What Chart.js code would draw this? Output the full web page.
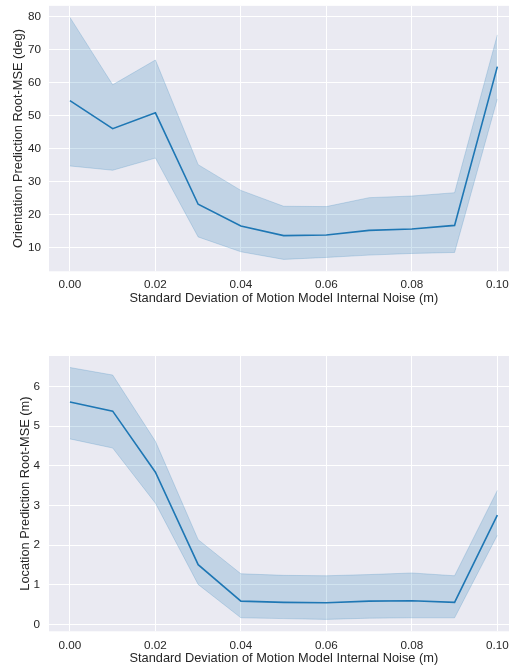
<!DOCTYPE html>
<html>
<head>
<meta charset="utf-8">
<script src="https://cdn.jsdelivr.net/npm/chart.js@4"></script>
<style>
  body { margin: 0; background: #fff; overflow: hidden; width: 509px; height: 668px; position: relative; }
  .box { position: absolute; left: 0; }
</style>
</head>
<body>
<div class="box" style="top:0"><canvas id="orientChart" width="520" height="310"></canvas></div>
<div class="box" style="top:330px"><canvas id="locChart" width="520" height="338"></canvas></div>
<script>
// noise levels (x) and the two error curves with their confidence bands
const noise = [0.00, 0.01, 0.02, 0.03, 0.04, 0.05, 0.06, 0.07, 0.08, 0.09, 0.10];

const orientMean = [54.5, 46.0, 50.8, 23.1, 16.5, 13.6, 13.8, 15.2, 15.6, 16.7, 64.8];
const orientLow  = [34.7, 33.4, 37.1, 13.2, 8.7, 6.4, 7.0, 7.7, 8.2, 8.5, 55.0];
const orientHigh = [79.7, 59.3, 66.8, 35.1, 27.3, 22.5, 22.4, 25.1, 25.6, 26.6, 74.4];

const locMean = [5.61, 5.38, 3.84, 1.51, 0.59, 0.56, 0.55, 0.59, 0.60, 0.56, 2.76];
const locLow  = [4.68, 4.45, 3.06, 1.01, 0.17, 0.15, 0.13, 0.16, 0.17, 0.17, 2.25];
const locHigh = [6.48, 6.29, 4.62, 2.14, 1.28, 1.24, 1.23, 1.26, 1.30, 1.23, 3.38];

const xTicks = [0.00, 0.02, 0.04, 0.06, 0.08, 0.10];
const orientTicks = [10, 20, 30, 40, 50, 60, 70, 80];
const locTicks = [0, 1, 2, 3, 4, 5, 6];

const xTitle = 'Standard Deviation of Motion Model Internal Noise (m)';

const FONT = '"Liberation Sans", Arial, sans-serif';
const TEXT = '#262626';
const LINE = '#1f77b4';
const BAND = 'rgba(31, 119, 180, 0.2)';

// seaborn-like grey plot background
const areaBg = {
    id: 'areaBg',
    beforeDraw(chart) {
        const a = chart.chartArea;
        chart.ctx.save();
        chart.ctx.fillStyle = '#eaeaf2';
        chart.ctx.fillRect(a.left, a.top, a.right - a.left, a.bottom - a.top);
        chart.ctx.restore();
    }
};

function pts(ys) {
    return noise.map((x, i) => ({ x: x, y: ys[i] }));
}

function makeChart(id, mean, low, high, yTicks, yMin, yMax, yTitle, g) {
    const ctx = document.getElementById(id).getContext('2d');
    return new Chart(ctx, {
        type: 'line',
        data: {
            datasets: [
                { data: pts(low), borderColor: BAND, borderWidth: 1, pointRadius: 0, fill: false },
                { data: pts(high), borderColor: BAND, borderWidth: 1, pointRadius: 0, fill: '-1', backgroundColor: BAND },
                { data: pts(mean), borderColor: LINE, borderWidth: 1.6, pointRadius: 0, fill: false }
            ]
        },
        options: {
            responsive: false,
            animation: false,
            layout: { padding: { top: g.padTop, bottom: g.padBottom, left: 0, right: 1.3 } },
            plugins: { legend: { display: false }, tooltip: { enabled: false } },
            scales: {
                x: {
                    type: 'linear',
                    min: -0.0049,
                    max: 0.105,
                    afterBuildTicks: s => { s.ticks = xTicks.map(v => ({ value: v })); },
                    grid: { color: '#ffffff', lineWidth: 1, tickColor: 'rgba(0,0,0,0)', tickLength: g.xTick },
                    border: { display: false },
                    ticks: {
                        padding: 0,
                        color: TEXT,
                        font: { family: FONT, size: 11.7, lineHeight: 1 },
                        callback: v => v.toFixed(2)
                    },
                    title: {
                        display: true,
                        text: xTitle,
                        color: TEXT,
                        padding: { top: g.xTitleTop, bottom: 0 },
                        font: { family: FONT, size: 12.8, lineHeight: 1.2 }
                    }
                },
                y: {
                    min: yMin,
                    max: yMax,
                    afterBuildTicks: s => { s.ticks = yTicks.map(v => ({ value: v })); },
                    afterFit: s => { s.width = 49; },
                    grid: { color: '#ffffff', lineWidth: 1, tickColor: 'rgba(0,0,0,0)', tickLength: g.yTick },
                    border: { display: false },
                    ticks: {
                        padding: 0,
                        color: TEXT,
                        font: { family: FONT, size: 11.7, lineHeight: 1 }
                    },
                    title: {
                        display: true,
                        text: yTitle,
                        color: TEXT,
                        padding: { top: g.yTitleTop, bottom: 0 },
                        font: { family: FONT, size: 12.8, lineHeight: 1.2 }
                    }
                }
            }
        },
        plugins: [areaBg]
    });
}

makeChart('orientChart', orientMean, orientLow, orientHigh, orientTicks, 2.8, 83.2,
    'Orientation Prediction Root-MSE (deg)',
    { padTop: 5, padBottom: 3.8, xTick: 7.85, xTitleTop: 0, yTick: 8, yTitleTop: 10.3 });

makeChart('locChart', locMean, locLow, locHigh, locTicks, -0.17, 6.77,
    'Location Prediction Root-MSE (m)',
    { padTop: 26, padBottom: 2.1, xTick: 8.55, xTitleTop: -1, yTick: 9, yTitleTop: 17.3 });
</script>
</body>
</html>
